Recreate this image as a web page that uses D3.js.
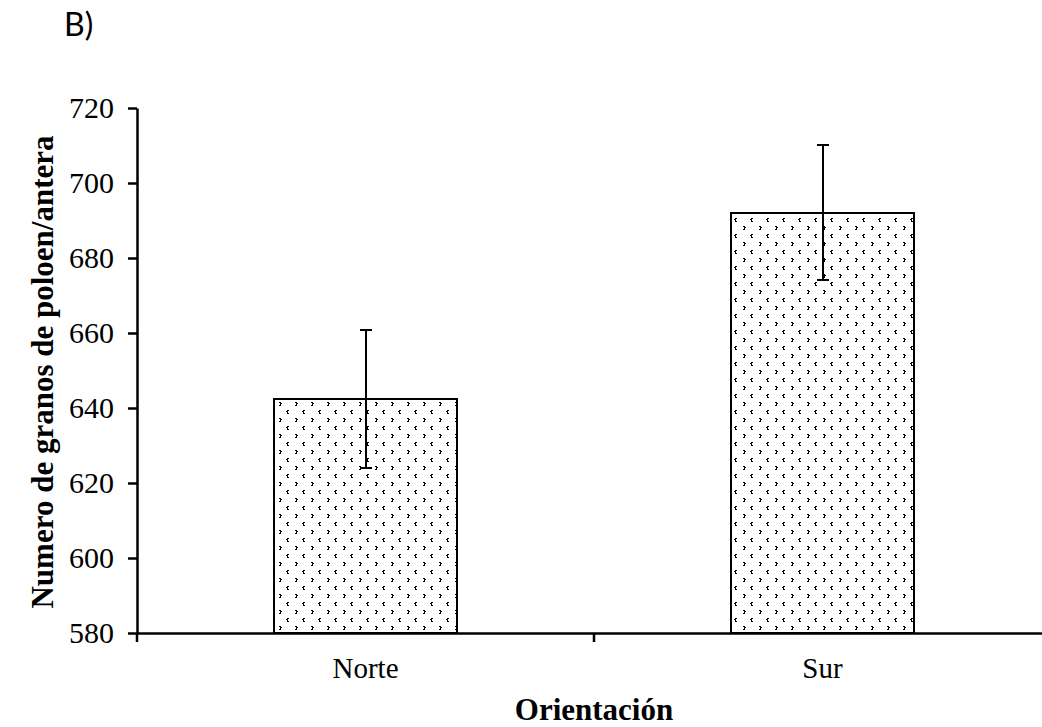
<!DOCTYPE html>
<html>
<head>
<meta charset="utf-8">
<script src="https://cdn.jsdelivr.net/npm/d3@7"></script>
<style>
  html, body { margin: 0; padding: 0; background: #fff; }
  svg { display: block; }
</style>
</head>
<body>
<svg id="chart" width="1042" height="727"></svg>
<script>
// Pollen grains per anther by orientation (mean ± error)
const categories = ["Norte", "Sur"];
const means = [642.5, 692.1];
const errors = [18.4, 18.0];
const yTicks = [580, 600, 620, 640, 660, 680, 700, 720];

const svg = d3.select("#chart");
const serif = '"Liberation Serif", "Times New Roman", serif';

const plot = { left: 137, right: 1051, top: 108, bottom: 633 };

const y = d3.scaleLinear().domain([580, 720]).range([plot.bottom, plot.top]);
const x = d3.scaleBand().domain(categories)
  .range([plot.left, plot.right])
  .paddingInner(0.6).paddingOuter(0.3);

// Dotted fill: alternating rows of small ">" and "<" marks
const defs = svg.append("defs");
const pat = defs.append("pattern")
  .attr("id", "dots")
  .attr("patternUnits", "userSpaceOnUse")
  .attr("width", 16).attr("height", 16);
pat.append("rect").attr("width", 16).attr("height", 16).attr("fill", "#fff");
const chevRight = [[0, 0], [1, 0], [1, 1], [2, 1], [1, 2], [0, 3], [1, 3]];
const chevLeft = [[1, 0], [2, 0], [0, 1], [1, 1], [1, 2], [1, 3], [2, 3]];
const dot = (px, py) => pat.append("rect").attr("x", px).attr("y", py)
  .attr("width", 1).attr("height", 1).attr("fill", "#000");
chevRight.forEach(([dx, dy]) => dot(7 + dx, 2 + dy));
chevLeft.forEach(([dx, dy]) => { dot(14 + dx, 10 + dy); dot(-2 + dx, 10 + dy); });

const data = categories.map((c, i) => ({ cat: c, mean: means[i], err: errors[i] }));

// Bars
svg.append("g").selectAll("rect")
  .data(data).join("rect")
  .attr("x", d => x(d.cat))
  .attr("y", d => y(d.mean))
  .attr("width", x.bandwidth())
  .attr("height", d => y(580) - y(d.mean))
  .attr("fill", "url(#dots)")
  .attr("stroke", "#000")
  .attr("stroke-width", 2)
  .attr("shape-rendering", "crispEdges");

// Error bars
const eb = svg.append("g").attr("stroke", "#000").attr("stroke-width", 2)
  .attr("shape-rendering", "crispEdges");
data.forEach(d => {
  const cx = Math.round(x(d.cat) + x.bandwidth() / 2);
  eb.append("line").attr("x1", cx).attr("x2", cx)
    .attr("y1", y(d.mean + d.err)).attr("y2", y(d.mean - d.err));
  [d.mean + d.err, d.mean - d.err].forEach(v =>
    eb.append("line").attr("x1", cx - 6).attr("x2", cx + 6)
      .attr("y1", y(v)).attr("y2", y(v)));
});

// Y axis
const yAxis = svg.append("g")
  .attr("transform", `translate(${plot.left},0)`)
  .call(d3.axisLeft(y).tickValues(yTicks).tickFormat(d3.format("d"))
    .tickSize(9).tickSizeOuter(0).tickPadding(14));
yAxis.select(".domain").attr("stroke-width", 2.5);
yAxis.selectAll(".tick line").attr("stroke-width", 2.5);
yAxis.selectAll(".tick text")
  .attr("fill", "#000")
  .style("font-family", serif)
  .style("font-size", "30px");

// X axis: category labels plus ticks on the band boundaries
const xAxis = svg.append("g")
  .attr("transform", `translate(0,${plot.bottom})`)
  .call(d3.axisBottom(x).tickSize(0).tickSizeOuter(0).tickPadding(0));
xAxis.select(".domain").attr("stroke-width", 2.5);
xAxis.selectAll(".tick text")
  .attr("fill", "#000")
  .style("font-family", serif)
  .style("font-size", "29px")
  .attr("dy", null).attr("y", 45);
const boundaries = d3.range(categories.length + 1).map(i => x.range()[0] + i * x.step());
xAxis.selectAll(".bound").data(boundaries).join("line")
  .attr("class", "bound")
  .attr("x1", d => d).attr("x2", d => d)
  .attr("y1", 0).attr("y2", 9)
  .attr("stroke", "#000").attr("stroke-width", 2.5);

// Axis titles
svg.append("text")
  .attr("transform", "translate(53,372) rotate(-90)")
  .attr("text-anchor", "middle")
  .style("font-family", serif).style("font-weight", "bold").style("font-size", "31px")
  .text("Numero de granos de poloen/antera");

svg.append("text")
  .attr("x", 594).attr("y", 720)
  .attr("text-anchor", "middle")
  .style("font-family", serif).style("font-weight", "bold").style("font-size", "31px")
  .text("Orientación");

// Panel label
svg.append("text")
  .attr("x", 64).attr("y", 36)
  .style("font-family", "Lato, 'Open Sans', sans-serif").style("font-size", "32px")
  .text("B)");
</script>
</body>
</html>
